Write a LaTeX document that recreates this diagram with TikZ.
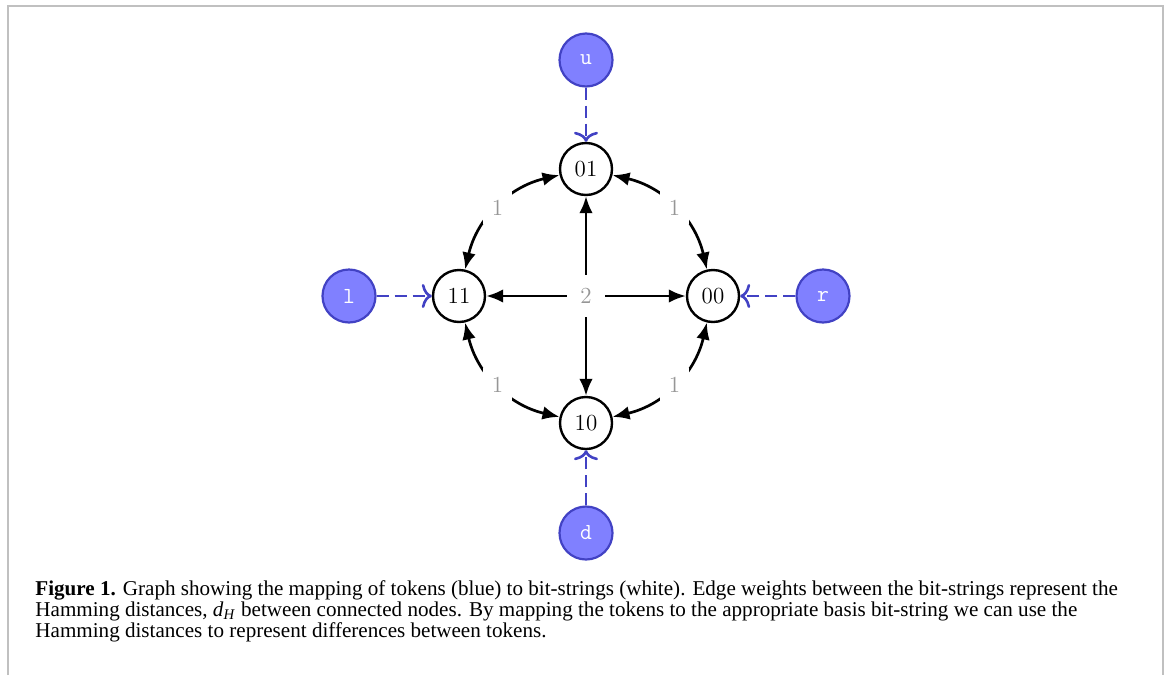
\documentclass[tikz,border=0pt]{standalone}
\usepackage{fontspec}
\newfontfamily\capfont{Liberation Serif}
\usetikzlibrary{arrows.meta}
\definecolor{tokfill}{RGB}{128,128,255}
\definecolor{tokdraw}{RGB}{66,66,196}
\definecolor{framegray}{RGB}{192,192,192}
\definecolor{wgray}{RGB}{150,150,150}
\begin{document}
\begin{tikzpicture}[x=0.5pt,y=-0.5pt,
 bit/.style={circle, draw=black, line width=1.2pt, fill=white, minimum size=26pt, inner sep=0pt, font=\fontsize{11.5}{14}\selectfont},
 tok/.style={circle, draw=tokdraw, line width=1.1pt, fill=tokfill, minimum size=26.5pt, inner sep=0pt, text=white, font=\fontsize{11.5}{14}\selectfont\ttfamily},
 hop/.style={line width=1.35pt, {Latex[length=8.5pt,width=6.8pt]}-{Latex[length=8.5pt,width=6.8pt]}},
 feed/.style={draw=tokdraw, line width=1.3pt, dash pattern=on 6pt off 3pt, -{Computer Modern Rightarrow[length=5pt,width=12pt]}},
 wt/.style={fill=white, text=wgray, font=\fontsize{11.5}{14}\selectfont, inner sep=4.3pt},
 wtc/.style={wt, inner sep=6.5pt},
 capline/.style={anchor=base west, inner sep=0pt, font=\capfont\fontsize{10.55}{12}\selectfont}
]
\useasboundingbox (0,0) rectangle (1167,675);
\draw[framegray, line width=1pt] (7.5,675) -- (7.5,5.5) -- (1163,5.5) -- (1163,675);

\node[bit] (b01) at (586,169) {01};
\node[bit] (b11) at (459,296) {11};
\node[bit] (b00) at (713,296) {00};
\node[bit] (b10) at (586,423) {10};

\node[tok] (u) at (586,60) {u};
\node[tok] (l) at (349,296) {l};
\node[tok] (r) at (823,296) {r};
\node[tok] (d) at (586,533) {d};

\draw[hop] (b11) to[bend left=32] node[wt]{1} (b01);
\draw[hop] (b01) to[bend left=32] node[wt]{1} (b00);
\draw[hop] (b00) to[bend left=32] node[wt]{1} (b10);
\draw[hop] (b10) to[bend left=32] node[wt]{1} (b11);
\draw[hop] (b11) -- node[wtc]{2} (b00);
\draw[hop] (b01) -- node[wtc]{2} (b10);

\draw[feed] (u) -- (b01);
\draw[feed] (l) -- (b11);
\draw[feed] (r) -- (b00);
\draw[feed] (d) -- (b10);

\node[capline] (c1) at (35,595) {\textbf{Figure 1.} Graph showing the mapping of tokens (blue) to bit-strings (white). Edge weights between the bit-strings represent the};
\node[capline] (c2) at (35,616) {Hamming distances, \textit{d}\textsubscript{\textit{H}} between connected nodes. By mapping the tokens to the appropriate basis bit-string we can use the};
\node[capline] (c3) at (35,637) {Hamming distances to represent differences between tokens.};
\end{tikzpicture}
\end{document}
